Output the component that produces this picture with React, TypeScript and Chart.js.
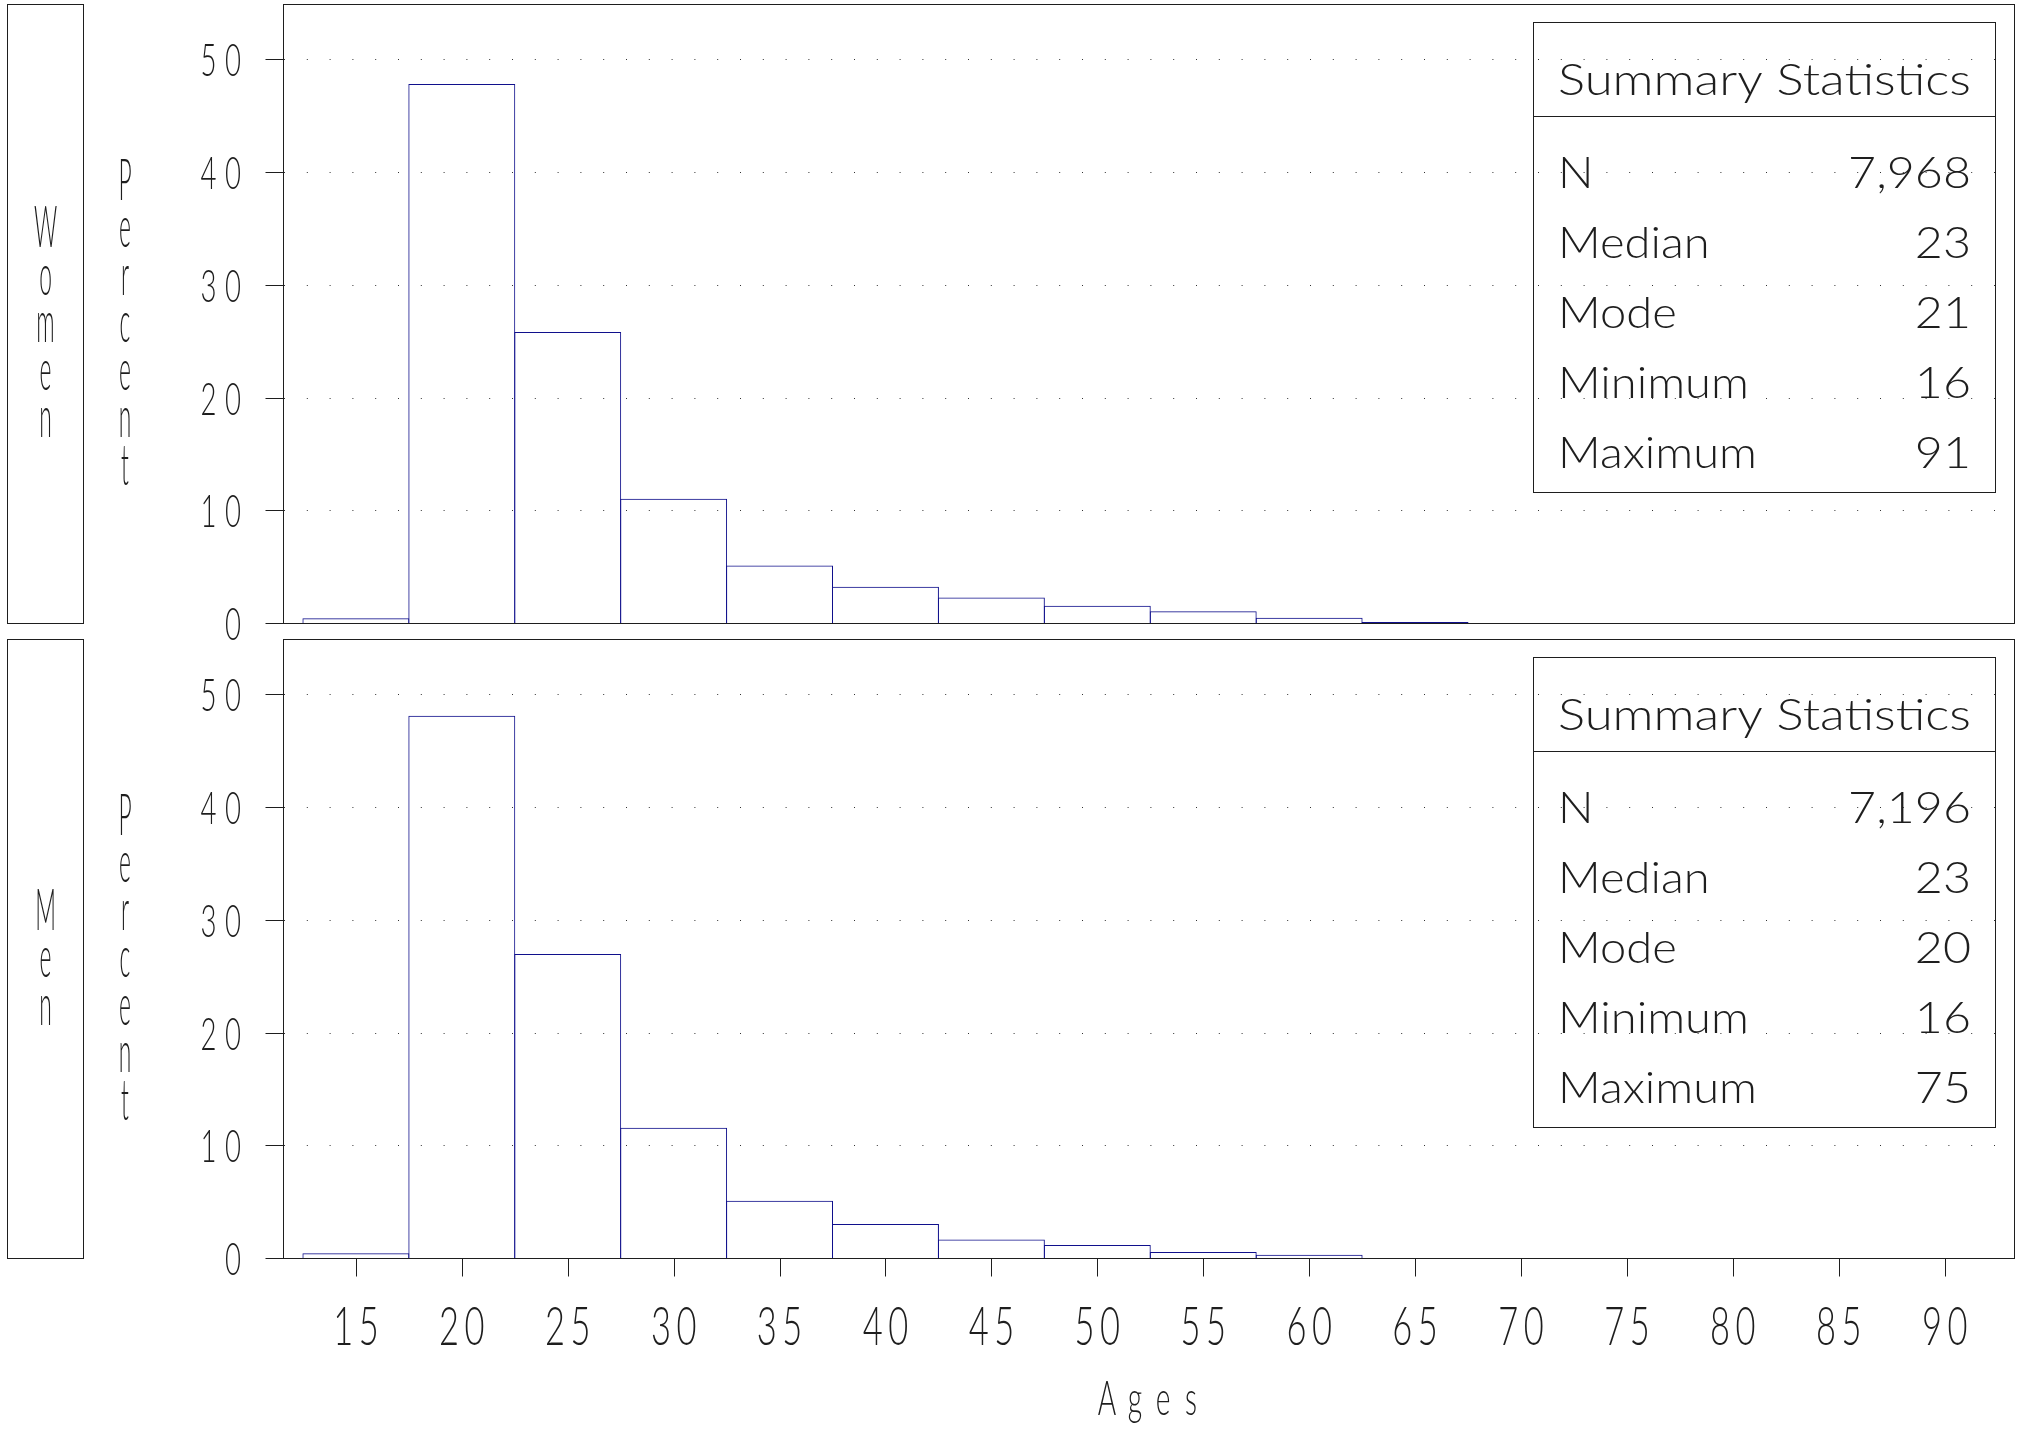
import React, { useEffect, useRef } from "react";
import { Chart, registerables } from "chart.js";

Chart.register(...registerables);

// ---------------- data ----------------
const ageBins = [15, 20, 25, 30, 35, 40, 45, 50, 55, 60, 65, 70, 75, 80, 85, 90];
const womenPercent = [0.5, 47.9, 25.9, 11.1, 5.2, 3.3, 2.36, 1.62, 1.12, 0.55, 0.17, 0.09, 0.09, 0, 0.03, 0.03];
const menPercent = [0.5, 48.2, 27.05, 11.65, 5.16, 3.1, 1.73, 1.24, 0.62, 0.38, 0.09, 0.09, 0.02, 0, 0, 0];
const percentTicks = [0, 10, 20, 30, 40, 50];
const percentGrid = [10, 20, 30, 40, 50];
const ageTicks = [15, 20, 25, 30, 35, 40, 45, 50, 55, 60, 65, 70, 75, 80, 85, 90];
const statNames = ["N", "Median", "Mode", "Minimum", "Maximum"];
const womenStats = ["7,968", "23", "21", "16", "91"];
const menStats = ["7,196", "23", "20", "16", "75"];
const panelNames = ["Women", "Men"];
const yTitle = "Percent";
const xTitle = "Ages";
const statsTitle = "Summary Statistics";

// ---------------- styling ----------------
const W = 2021;
const TOP_H = 660;
const BOT_TOP = 631;
const BOT_H = 800;
const FONT = "Lato, 'DejaVu Sans', sans-serif";
const INK = "#1e1e1e";
const BAR = "#10108c";

type PanelCfg = { name: string; values: number[]; stats: string[]; showAges: boolean };

function drawSpaced(ctx: CanvasRenderingContext2D, text: string, cx: number, baseline: number,
  size: number, sx: number, adv: number, weight = 300) {
  ctx.save();
  ctx.font = `${weight} ${size}px ${FONT}`;
  ctx.textAlign = "center";
  ctx.textBaseline = "alphabetic";
  ctx.fillStyle = INK;
  const n = text.length;
  for (let i = 0; i < n; i++) {
    const x = cx - ((n - 1) * adv) / 2 + i * adv;
    ctx.save();
    ctx.translate(x, baseline);
    ctx.scale(sx, 1);
    ctx.fillText(text[i], 0, 0);
    ctx.restore();
  }
  ctx.restore();
}

function drawStacked(ctx: CanvasRenderingContext2D, text: string, cx: number, cy: number) {
  const n = text.length;
  const step = 47.5;
  for (let i = 0; i < n; i++) {
    const b = cy + (i - (n - 1) / 2) * step;
    drawSpaced(ctx, text[i], cx, b, 57, 0.4, 0);
  }
}

function drawScaled(ctx: CanvasRenderingContext2D, text: string, x: number, y: number,
  sx: number, align: CanvasTextAlign) {
  ctx.save();
  ctx.translate(x, y);
  ctx.scale(sx, 1);
  ctx.textAlign = align;
  ctx.fillText(text, 0, 0);
  ctx.restore();
}

const snap = (p: number) => Math.floor(p - 0.5) + 0.5;

function decor(cfg: PanelCfg) {
  return {
    id: "decor",
    beforeDatasetsDraw(chart: any) {
      const { ctx, chartArea: a } = chart;
      const y = chart.scales.y;
      ctx.save();
      ctx.strokeStyle = "#333";
      ctx.lineWidth = 1;
      ctx.setLineDash([1, 21.8]);
      for (const v of percentGrid) {
        const py = snap(y.getPixelForValue(v));
        ctx.beginPath();
        ctx.moveTo(a.left + 1, py);
        ctx.lineTo(a.right - 1, py);
        ctx.stroke();
      }
      ctx.restore();
    },
    afterDatasetsDraw(chart: any) {
      const { ctx, chartArea: a } = chart;
      const x = chart.scales.x;
      const y = chart.scales.y;
      const L = a.left + 0.5, R = a.right - 0.5, T = a.top + 0.5, B = a.bottom - 0.5;
      ctx.save();
      ctx.strokeStyle = INK;
      ctx.lineWidth = 1;
      ctx.setLineDash([]);
      // frame + strip box
      ctx.strokeRect(L, T, R - L, B - T);
      ctx.strokeRect(7.5, T, 76, B - T);
      // y ticks
      ctx.beginPath();
      for (const v of percentTicks) {
        const py = snap(y.getPixelForValue(v));
        ctx.moveTo(L - 18, py);
        ctx.lineTo(L, py);
      }
      ctx.stroke();
      // y tick labels (right aligned char cells)
      for (const v of percentTicks) {
        const py = y.getPixelForValue(v);
        const s = String(v);
        const adv = 24.5;
        const lastC = 233;
        const cx = lastC - ((s.length - 1) * adv) / 2;
        drawSpaced(ctx, s, cx, py + 16, 46, 0.6, adv);
      }
      // stacked labels
      const cy = (a.top + a.bottom) / 2 + 28;
      drawStacked(ctx, cfg.name, 45.5, cy);
      drawStacked(ctx, yTitle, 125, cy);
      // x ticks + labels
      if (cfg.showAges) {
        ctx.beginPath();
        for (const v of ageTicks) {
          const px = Math.round(x.getPixelForValue(v)) + 0.5;
          ctx.moveTo(px, B);
          ctx.lineTo(px, B + 18);
        }
        ctx.stroke();
        for (const v of ageTicks) {
          const px = x.getPixelForValue(v);
          drawSpaced(ctx, String(v), px, B + 86, 53, 0.65, 25.5);
        }
        drawSpaced(ctx, xTitle, (a.left + a.right) / 2, B + 156.5, 47, 0.6, 28);
      }
      // summary statistics box
      const bl = 1533.5, br = 1995.5;
      const bt = snap(a.top + 19), bh = snap(a.top + 113), bb = snap(a.top + 489);
      ctx.strokeRect(bl, bt, br - bl, bb - bt);
      ctx.beginPath();
      ctx.moveTo(bl, bh);
      ctx.lineTo(br, bh);
      ctx.stroke();
      ctx.fillStyle = INK;
      ctx.font = `300 44px ${FONT}`;
      ctx.textBaseline = "alphabetic";
      const mw = ctx.measureText(statsTitle).width;
      drawScaled(ctx, statsTitle, 1558, a.top + 91, 413 / mw, "left");
      for (let i = 0; i < statNames.length; i++) {
        const by = a.top + 184.3 + i * 70;
        drawScaled(ctx, statNames[i], 1558, by, 1.07, "left");
        drawScaled(ctx, cfg.stats[i], 1971, by, 1.1, "right");
      }
      ctx.restore();
    },
  };
}

function makeChart(canvas: HTMLCanvasElement, cfg: PanelCfg, padding: any) {
  return new Chart(canvas, {
    type: "bar",
    data: {
      datasets: [
        {
          data: ageBins.map((a, i) => ({ x: a, y: cfg.values[i] })),
          backgroundColor: "rgba(0,0,0,0)",
          borderColor: BAR,
          borderWidth: { top: 1, left: 1, right: 1, bottom: 0 },
          borderSkipped: false,
          barPercentage: 1.0095,
          categoryPercentage: 1,
          inflateAmount: 0,
        } as any,
      ],
    },
    options: {
      responsive: false,
      animation: false,
      events: [],
      layout: { padding },
      plugins: { legend: { display: false }, tooltip: { enabled: false } },
      scales: {
        x: {
          type: "linear",
          display: false,
          min: 11.56,
          max: 93.32,
          offset: false,
          ticks: { stepSize: 5, includeBounds: false },
        },
        y: { display: false, min: 0, max: 55 },
      },
    } as any,
    plugins: [decor(cfg) as any],
  });
}

export default function App() {
  const topRef = useRef<HTMLCanvasElement>(null);
  const botRef = useRef<HTMLCanvasElement>(null);

  useEffect(() => {
    if (!topRef.current || !botRef.current) return;
    const c1 = makeChart(
      topRef.current,
      { name: panelNames[0], values: womenPercent, stats: womenStats, showAges: false },
      { left: 283, right: W - 2015, top: 4, bottom: TOP_H - 624 }
    );
    const c2 = makeChart(
      botRef.current,
      { name: panelNames[1], values: menPercent, stats: menStats, showAges: true },
      { left: 283, right: W - 2015, top: 639 - BOT_TOP, bottom: BOT_H - (1259 - BOT_TOP) }
    );
    const fonts: any = (document as any).fonts;
    if (fonts && fonts.load) {
      Promise.all([fonts.load(`300 44px Lato`), fonts.load(`44px Lato`)])
        .then(() => { c1.draw(); c2.draw(); })
        .catch(() => {});
    }
    return () => {
      c1.destroy();
      c2.destroy();
    };
  }, []);

  return (
    <div style={{ position: "absolute", left: 0, top: 0, width: W, height: BOT_TOP + BOT_H, background: "#fff" }}>
      <canvas ref={topRef} width={W} height={TOP_H} style={{ position: "absolute", left: 0, top: 0 }} />
      <canvas ref={botRef} width={W} height={BOT_H} style={{ position: "absolute", left: 0, top: BOT_TOP }} />
    </div>
  );
}
